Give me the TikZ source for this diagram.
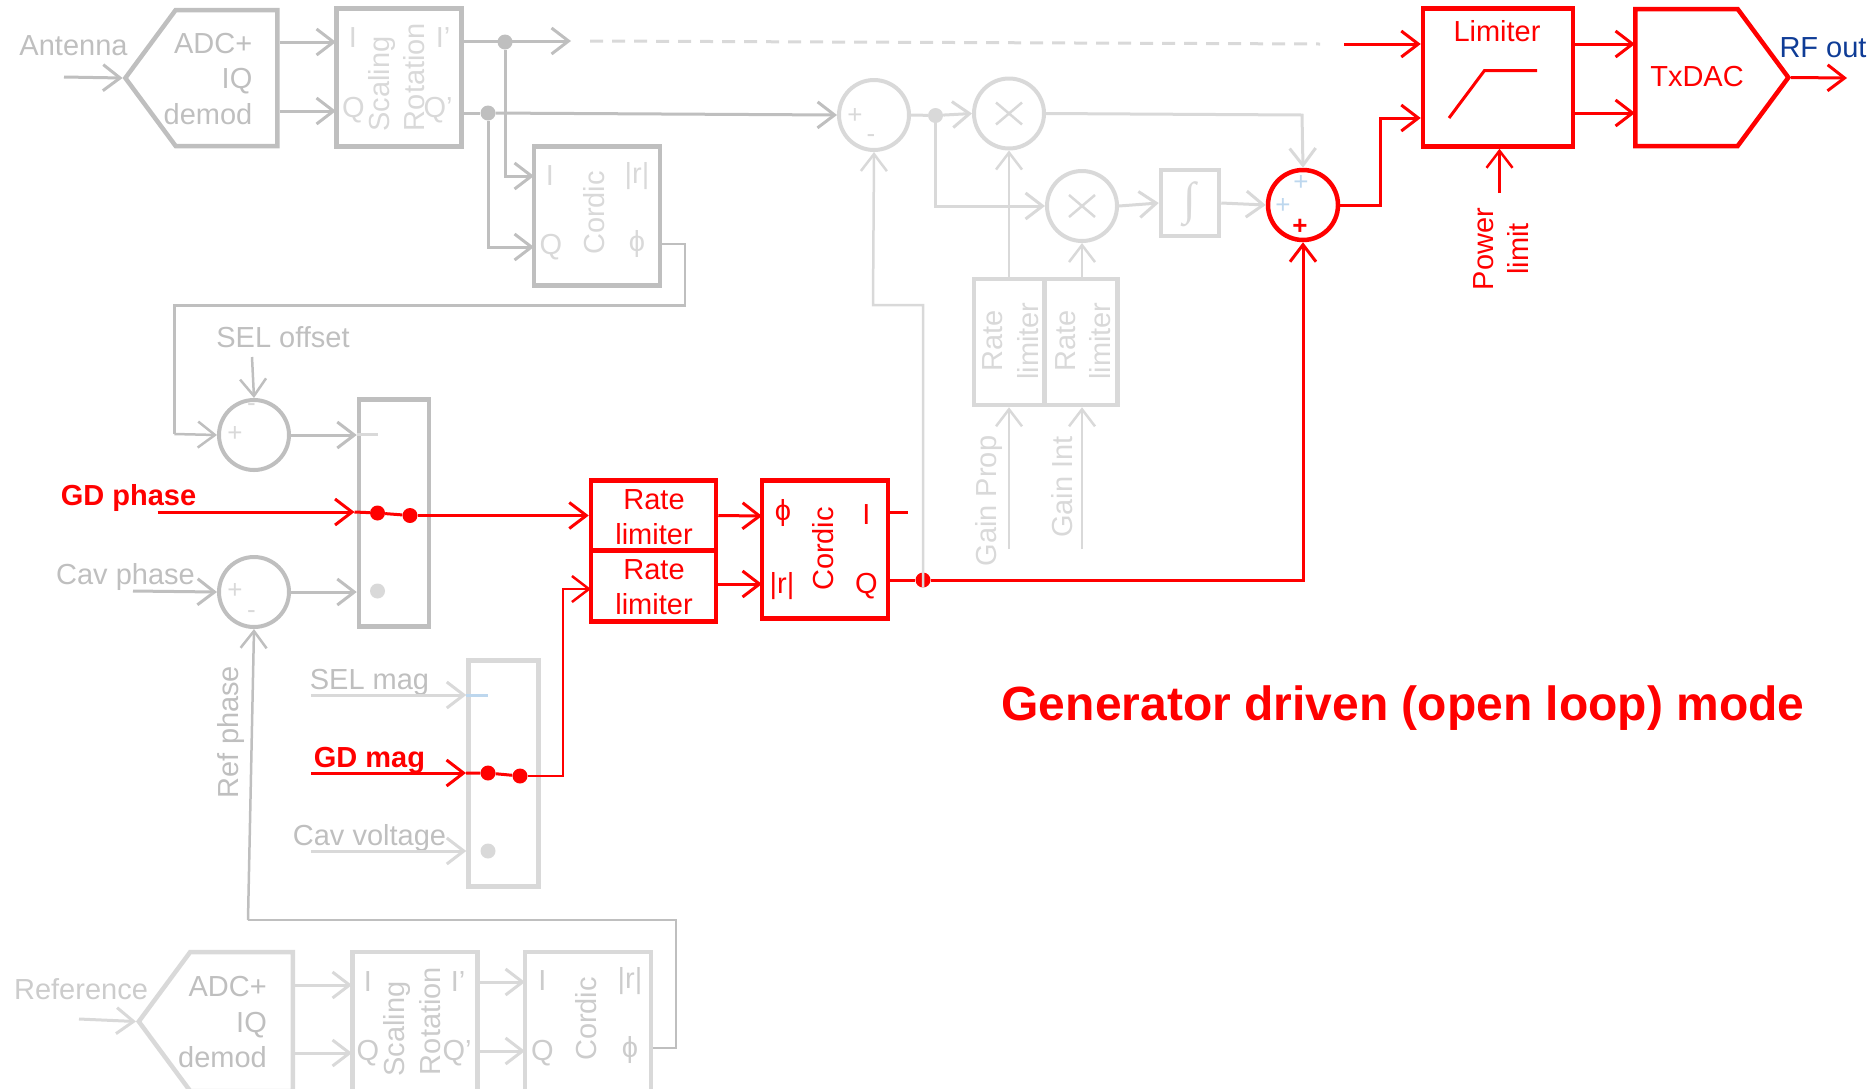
\documentclass[tikz,border=0pt]{standalone}
\usepackage{fontspec}
\setmainfont{Liberation Sans}
\newfontfamily\intfont{Liberation Serif}
\usetikzlibrary{arrows.meta,shapes.symbols}

\definecolor{grayA}{HTML}{BFBFBF}
\definecolor{grayB}{HTML}{D9D9D9}
\definecolor{blueS}{HTML}{BDD7EE}
\definecolor{blueT}{HTML}{0F3C96}

\tikzset{
  txt/.style={inner sep=0pt,align=center,font=\fontsize{29}{35.5}\selectfont},
  sgn/.style={inner sep=0pt,font=\fontsize{26}{26}\selectfont},
  boxA/.style={draw=grayA,line width=4.5pt,rectangle,inner sep=0pt},
  boxB/.style={draw=grayB,line width=4.5pt,rectangle,inner sep=0pt},
  boxR/.style={draw=red,line width=4.5pt,rectangle,inner sep=0pt},
  sigA/.style={boxA,shape=signal},
  sigB/.style={boxB,shape=signal},
  sigR/.style={boxR,shape=signal},
  sumA/.style={draw=grayA,line width=4pt,circle,inner sep=0pt,minimum size=70pt},
  sumB/.style={draw=grayB,line width=4pt,circle,inner sep=0pt,minimum size=70pt},
  sumR/.style={draw=red,line width=4.5pt,circle,inner sep=0pt,minimum size=70pt},
  dotA/.style={fill=grayA,circle,inner sep=0pt,minimum size=15pt},
  dotB/.style={fill=grayB,circle,inner sep=0pt,minimum size=15pt},
  dotR/.style={fill=red,circle,inner sep=0pt,minimum size=15pt},
  lineA/.style={draw=grayA,line width=3pt},
  lineB/.style={draw=grayB,line width=3pt},
  lineR/.style={draw=red,line width=3pt},
}

\begin{document}
\begin{tikzpicture}[x=1pt,y=-1pt,>={Straight Barb[length=17pt,width=26pt]}]
\useasboundingbox (0,0) rectangle (1873,1088);

% antenna chain
\node[sigA,signal to=west,signal pointer angle=107,minimum width=152pt,minimum height=136pt] (adcA) at (226.5,78) {};
\node[boxA,minimum width=125pt,minimum height=138pt] (scalA) at (399,77.5) {};
\node[boxA,minimum width=126pt,minimum height=139pt] (cordA) at (597,216) {};
\node[txt,text=grayA] (lblAnt) at (73.5,46) {Antenna};
\node[txt,text=grayA,align=right,anchor=east] (lblAdcA) at (252.5,79) {ADC+\\IQ\\demod};
\node[txt,text=grayB] (lblAI) at (353,38) {I};
\node[txt,text=grayB] (lblAQ) at (353.5,110) {Q};
\node[txt,text=grayB,rotate=90] (lblAScal) at (382,84) {Scaling};
\node[txt,text=grayB,rotate=90] (lblARot) at (414.5,77) {Rotation};
\node[txt,text=grayB] (lblAIp) at (443,38) {I’};
\node[txt,text=grayB] (lblAQp) at (438,110) {Q’};
\node[txt,text=grayB] (lblCAI) at (550,176) {I};
\node[txt,text=grayB] (lblCAQ) at (551,247) {Q};
\node[txt,text=grayB,rotate=90] (lblCACor) at (594.5,213) {Cordic};
\node[txt,text=grayB] (lblCAr) at (637,176) {|r|};
\node[txt,text=grayB] (lblCAphi) at (637,244) {ϕ};

\coordinate (antIn) at (64,77);
\coordinate (adcAI) at (336,42);
\coordinate (adcAQ) at (336,111);
\coordinate (iA) at (571,41);
\coordinate (corAI) at (534,176);
\coordinate (corAQ) at (534,247);
\coordinate (corAphi) at (685,244);
\coordinate (bendAphi) at (685,305.5);
\node[dotA] (dotAI) at (505,42) {};
\node[dotA] (dotAQ) at (488,113) {};
\draw[lineA,->] (antIn) -- (adcA.west);
\draw[lineA,->] (adcA.east |- adcAI) -- (adcAI);
\draw[lineA,->] (adcA.east |- adcAQ) -- (adcAQ);
\draw[lineA,->] (scalA.east |- iA) -- (iA);
\draw[lineA] (scalA.east |- dotAQ) -- (dotAQ);
\draw[lineA,->] (dotAI) |- (corAI);
\draw[lineA,->] (dotAQ) |- (corAQ);

% dashed run to the limiter
\coordinate (dashS) at (590,41);
\coordinate (dashE) at (1320,44);
\draw[lineB,dash pattern=on 13pt off 9pt] (dashS) -- (dashE);

% control path
\node[sumB] (sumC) at (874,115) {};
\node[sumB] (multA) at (1009,113.5) {};
\node[sumB] (multB) at (1082,206) {};
\node[boxB,minimum width=58pt,minimum height=66pt] (intg) at (1190,203) {};
\node[txt,text=grayB,font=\intfont\fontsize{46}{46}\selectfont] (lblInt) at (1190,204) {∫};
\node[sumR] (sumO) at (1303,205) {};
\node[boxB,minimum width=70pt,minimum height=126pt] (rateP) at (1009,342) {};
\node[boxB,minimum width=73pt,minimum height=126pt] (rateI) at (1081,342) {};
\node[sgn,text=grayB] (sgnCp) at (855,116) {+};
\node[sgn,text=grayB] (sgnCm) at (871,139) {-};
\node[sgn,text=blueS] (sgnOa) at (1301,183) {+};
\node[sgn,text=blueS] (sgnOb) at (1283,206) {+};
\node[sgn,text=red,font=\bfseries\fontsize{26}{26}\selectfont] (sgnOc) at (1300,227) {+};
\node[txt,text=grayB,rotate=90] (lblRateP) at (1010.5,341) {Rate\\limiter};
\node[txt,text=grayB,rotate=90] (lblRateI) at (1083,341) {Rate\\limiter};
\node[txt,text=grayB,rotate=90] (lblGainP) at (989,501) {Gain Prop};
\node[txt,text=grayB,rotate=90] (lblGainI) at (1062,487) {Gain Int};
\foreach \m in {multA,multB}
  \draw[grayB,line width=2.5pt] (\m) +(-13,-11) -- +(13,11) +(-13,11) -- +(13,-11);

\coordinate (gainP) at (1009,549);
\coordinate (gainI) at (1082,549);
\coordinate (topO) at (1302,115);
\node[dotB] (dotC) at (935.5,115.5) {};
\draw[lineA,->] (dotAQ) -- (sumC.west);
\draw[lineB] (sumC.east) -- (dotC);
\draw[lineB,->] (dotC) -- (multA.west);
\draw[lineB,->] (dotC) |- (multB.west);
\draw[lineB,->] (multA.east) -- (topO) -- (sumO.north);
\draw[lineB,->] (multB.east) -- (intg.west);
\draw[lineB,->] (intg.east) -- (sumO.west);
\draw[lineB,line width=2.5pt,->] (rateP.north) -- (multA.south);
\draw[lineB,line width=2.5pt,->] (multB.south |- rateI.north) -- (multB.south);
\draw[lineB,line width=2.5pt,->] (gainP) -- (rateP.south);
\draw[lineB,line width=2.5pt,->] (gainI) -- (gainI |- rateI.south);

% phase select
\node[sumA] (sumS) at (254,435) {};
\node[sumA] (sumV) at (254,592) {};
\node[boxA,minimum width=70pt,minimum height=227pt] (muxP) at (394,513) {};
\node[txt,text=grayA] (lblSel) at (283,337) {SEL offset};
\node[txt,text=red,font=\bfseries\fontsize{29}{35.5}\selectfont] (lblGdP) at (128.5,498) {GD phase};
\node[txt,text=grayA] (lblCavP) at (125.5,577) {Cav phase};
\node[txt,text=grayA,rotate=90] (lblRef) at (231,732) {Ref phase};
\node[sgn,text=grayB] (sgnSm) at (251.5,408) {-};
\node[sgn,text=grayB] (sgnSp) at (235,434) {+};
\node[sgn,text=grayB] (sgnVp) at (235,591) {+};
\node[sgn,text=grayB] (sgnVm) at (251.5,615) {-};

\coordinate (selIn) at (252,357);
\coordinate (bendSel) at (174.5,305.5);
\coordinate (bendSelB) at (174.5,434);
\coordinate (cavIn) at (133,591);
\coordinate (gdIn) at (157.5,512);
\coordinate (stubS) at (377.5,434);
\node[dotB] (dotVP) at (377.5,591) {};
\draw[lineA,line width=2.5pt] (cordA.east |- corAphi) -- (corAphi) -- (bendAphi) -- (bendSel) -- (bendSelB);
\draw[lineA,line width=2.5pt,->] (bendSelB) -- (sumS.west);
\draw[lineA,line width=2.5pt,->] (selIn) -- (sumS.north);
\draw[lineA,->] (cavIn) -- (sumV.west);
\draw[lineA,->] (sumS.east) -- (muxP.west |- sumS);
\draw[lineA,->] (sumV.east) -- (muxP.west |- sumV);
\draw[lineB] (muxP.west |- stubS) -- (stubS);

% magnitude select
\node[boxB,minimum width=70pt,minimum height=226pt] (muxM) at (503.5,773.5) {};
\node[txt,text=grayA] (lblSelM) at (369.5,682) {SEL mag};
\node[txt,text=red,font=\bfseries\fontsize{29}{35.5}\selectfont] (lblGdM) at (369.5,760) {GD mag};
\node[txt,text=grayA] (lblCavV) at (369.5,838) {Cav voltage};
\coordinate (selM) at (311,695);
\coordinate (gdM) at (311,773);
\coordinate (cavM) at (311,851);
\coordinate (stubM) at (487.5,695);
\node[dotB] (dotVM) at (488,851) {};
\draw[lineB,->] (selM) -- (muxM.west |- selM);
\draw[lineB,->] (cavM) -- (muxM.west |- cavM);
\draw[blueS,line width=3pt] (muxM.west |- stubM) -- (stubM);

% reference chain
\node[sigB,signal to=west,signal pointer angle=107,minimum width=154pt,minimum height=139pt] (adcR) at (241.5,1021.5) {};
\node[boxB,minimum width=125pt,minimum height=139pt] (scalR) at (415,1021.5) {};
\node[boxB,minimum width=126pt,minimum height=139pt] (cordR) at (588,1021.5) {};
\node[txt,text=grayA!80] (lblRefIn) at (81,989) {Reference};
\node[txt,text=grayA,align=right,anchor=east] (lblAdcR) at (267,1022) {ADC+\\IQ\\demod};
\node[txt,text=grayA!80] (lblRI) at (368,982) {I};
\node[txt,text=grayA!80] (lblRQ) at (368,1053) {Q};
\node[txt,text=grayA!80,rotate=90] (lblRScal) at (397,1029) {Scaling};
\node[txt,text=grayA!80,rotate=90] (lblRRot) at (430.5,1021) {Rotation};
\node[txt,text=grayA!80] (lblRIp) at (458,982) {I’};
\node[txt,text=grayA!80] (lblRQp) at (457,1053) {Q’};
\node[txt,text=grayA!80] (lblCRI) at (542.5,981) {I};
\node[txt,text=grayA!80] (lblCRQ) at (542.5,1053) {Q};
\node[txt,text=grayA!80,rotate=90] (lblCRCor) at (586,1019) {Cordic};
\node[txt,text=grayA!80] (lblCRr) at (630,981) {|r|};
\node[txt,text=grayA!80] (lblCRphi) at (630,1050) {ϕ};

\coordinate (refIn) at (79,1019);
\coordinate (adcRI) at (352,985);
\coordinate (adcRQ) at (352,1053);
\coordinate (scalRI) at (525,982);
\coordinate (scalRQ) at (525,1051);
\coordinate (corRphi) at (676,1048);
\coordinate (bendRef) at (676,920);
\coordinate (bendRefB) at (248,920);
\draw[lineB,->] (refIn) -- (adcR.west);
\draw[lineB,->] (adcR.east |- adcRI) -- (adcRI);
\draw[lineB,->] (adcR.east |- adcRQ) -- (adcRQ);
\draw[lineB,->] (scalR.east |- scalRI) -- (scalRI);
\draw[lineB,->] (scalR.east |- scalRQ) -- (scalRQ);
\draw[lineA,line width=2.5pt] (cordR.east |- corRphi) -- (corRphi) -- (bendRef) -- (bendRefB);
\draw[lineA,line width=2.5pt,->] (bendRefB) -- (sumV.south);

% active red path
\node[boxR,minimum width=125pt,minimum height=70pt] (rateM) at (653.5,515.5) {};
\node[boxR,minimum width=125pt,minimum height=71pt] (rateA) at (653.5,586) {};
\node[boxR,minimum width=126pt,minimum height=138pt] (cordG) at (825,549.5) {};
\node[boxR,minimum width=150pt,minimum height=138pt] (limit) at (1498,77.5) {};
\node[sigR,signal to=east,signal pointer angle=107,minimum width=153pt,minimum height=137pt] (txdac) at (1686.5,77.5) {};
\node[txt,text=red] (lblRateM) at (654,517) {Rate\\limiter};
\node[txt,text=red] (lblRateA) at (654,587) {Rate\\limiter};
\node[txt,text=red] (lblCGphi) at (783,513) {ϕ};
\node[txt,text=red] (lblCGI) at (866.5,515) {I};
\node[txt,text=red,rotate=90] (lblCGCor) at (823,549) {Cordic};
\node[txt,text=red] (lblCGr) at (782,586) {|r|};
\node[txt,text=red] (lblCGQ) at (866.5,586) {Q};
\node[txt,text=red] (lblLim) at (1497,31) {Limiter};
\node[txt,text=red] (lblTx) at (1697,77) {TxDAC};
\node[txt,text=blueT] (lblRf) at (1823,48) {RF out};
\node[txt,text=red,rotate=90] (lblPow) at (1501,249) {Power\\limit};
\node[txt,text=red,font=\bfseries\fontsize{48}{55}\selectfont] (lblMode) at (1403,708) {Generator driven (open loop) mode};

\coordinate (limA) at (1449,118);
\coordinate (limB) at (1484.5,70.5);
\coordinate (limC) at (1537,70.5);
\draw[lineR] (limA) -- (limB) -- (limC);

\coordinate (powIn) at (1499.5,193);
\coordinate (rfEnd) at (1847,78);
\coordinate (limIn) at (1344,44);
\coordinate (limBend) at (1380,118);
\coordinate (txI) at (1635,44);
\coordinate (txQ) at (1635,113);
\coordinate (corI) at (908,512);
\coordinate (corPhi) at (762,516);
\coordinate (corR) at (762,584);
\coordinate (magIn) at (591,589);
\coordinate (magBend) at (563,589);
\coordinate (gdInEnd) at (354.5,512);
\coordinate (gdMEnd) at (466,773);
\node[dotR] (dotP1) at (377.5,513) {};
\node[dotR] (dotP2) at (410,515.5) {};
\node[dotR] (dotM1) at (488,773) {};
\node[dotR] (dotM2) at (520,776) {};

\coordinate (fbBend) at (873,305);
\node[dotR] (dotQ) at (923,580) {};
\draw[lineB,line width=2.5pt,->] (dotQ.south) |- (fbBend) -- (sumC.south);
\draw[lineR,->] (gdIn) -- (gdInEnd);
\draw[lineR] (gdInEnd) -- (dotP1) -- (dotP2);
\draw[lineR,->] (dotP2) -- (rateM.west |- dotP2);
\draw[lineR,->] (gdM) -- (gdMEnd);
\draw[lineR] (gdMEnd) -- (dotM1) -- (dotM2);
\draw[lineR,line width=2.5pt,->] (dotM2) -| (magBend) -- (magIn);
\draw[lineR,->] (rateM.east |- dotP2) -- (corPhi);
\draw[lineR,->] (rateA.east |- corR) -- (corR);
\draw[lineR] (cordG.east |- corI) -- (corI);
\draw[lineR] (cordG.east |- dotQ) -- (dotQ);
\draw[lineR,->] (dotQ) -| (sumO.south);
\draw[lineR,->] (sumO.east) -| (limBend) -- (limit.west |- limBend);
\draw[lineR,->] (limIn) -- (limit.west |- limIn);
\draw[lineR,->] (limit.east |- txI) -- (txI);
\draw[lineR,->] (limit.east |- txQ) -- (txQ);
\draw[lineR,line width=2.5pt,->] (powIn) -- (powIn |- limit.south);
\draw[lineR,->] (txdac.east) -- (rfEnd);
\end{tikzpicture}
\end{document}
